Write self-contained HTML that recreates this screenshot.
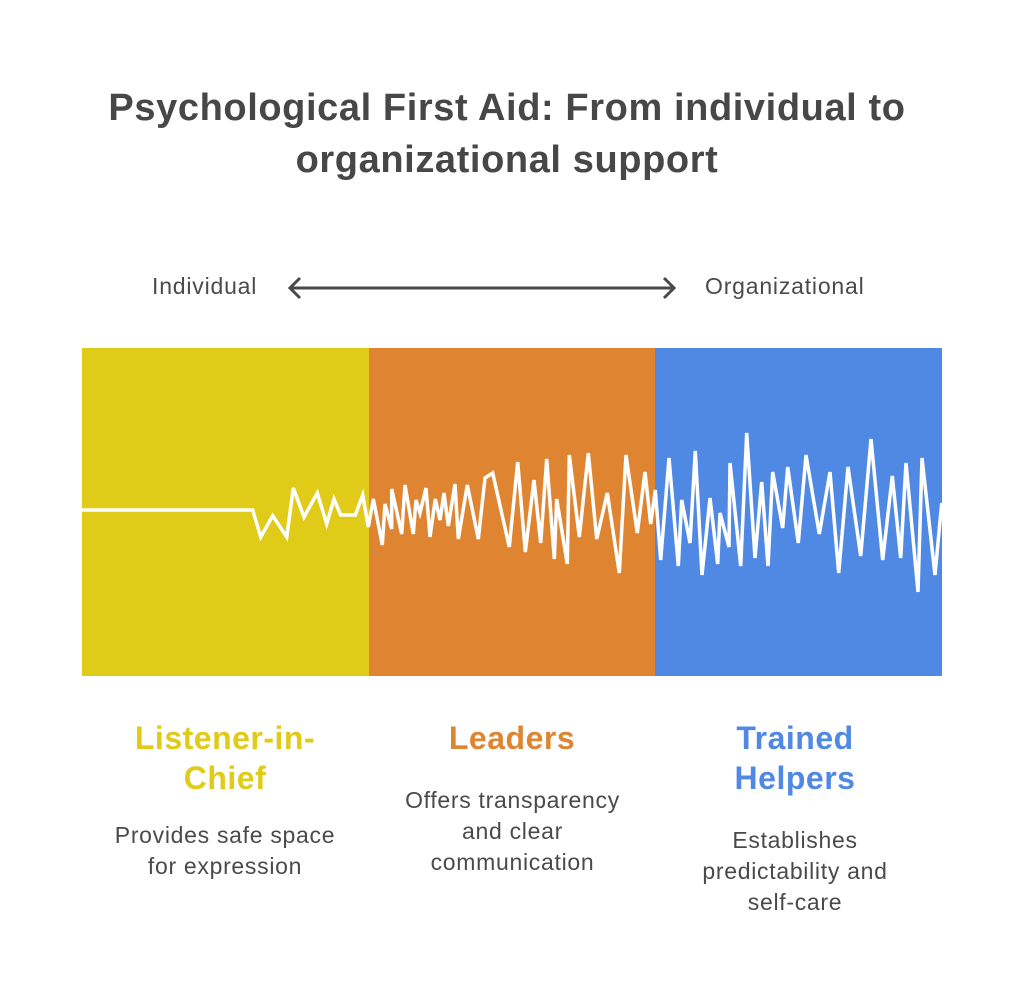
<!DOCTYPE html>
<html><head><style>
body{margin:0;width:1024px;height:1004px;background:#fff;font-family:"Liberation Sans",sans-serif;color:#4a4a4a;position:relative;overflow:hidden}
.t{position:absolute;left:0;width:1014px;text-align:center;font-weight:bold;font-size:38px;letter-spacing:0.6px;line-height:52px;top:82px;color:#474747}
.a{position:absolute;font-size:23px;letter-spacing:0.8px;top:273px}
.h{position:absolute;text-align:center;font-weight:bold;font-size:32px;letter-spacing:0.5px;line-height:40px}
.d{position:absolute;text-align:center;font-size:23px;letter-spacing:0.7px;line-height:31px;color:#4a4a4a}
</style></head><body>
<div class="t">Psychological First Aid: From individual to<br>organizational support</div>
<div class="a" style="left:152px">Individual</div>
<div class="a" style="left:705px">Organizational</div>
<svg style="position:absolute;left:0;top:0" width="1024" height="1004">
<line x1="290" y1="288" x2="674" y2="288" stroke="#4a4a4a" stroke-width="3"/>
<polyline points="300,278 290,288 300,298" fill="none" stroke="#4a4a4a" stroke-width="3"/>
<polyline points="664,278 674,288 664,298" fill="none" stroke="#4a4a4a" stroke-width="3"/>
<rect x="82" y="348" width="287" height="328" fill="#DFCB18"/>
<rect x="369" y="348" width="286" height="328" fill="#DF8431"/>
<rect x="655" y="348" width="287" height="328" fill="#4F89E4"/>
<polyline fill="none" stroke="#fff" stroke-width="3.5" stroke-linejoin="miter" points="82,510 252.7,510 260.7,537 272.7,515.7 286.7,537 293.3,488 304,517 317.3,493 326.7,524 334,499 340.7,515 355.3,515 362.7,495 368.3,527 373.3,499 382.3,545 385,504 391.7,529 391.7,489 401.7,534 405,485 413.3,534 416,500 420,513 426,488 430,537 435.3,499 440,520 444,493 448.3,526 455,484 458.3,539 467.3,485 478.3,539 485,478 492.7,473 509.3,547 517.7,462 525.3,552 534,480 540.7,543 546.7,459 554.3,559 556.7,499 567.3,564 569.3,455 579.3,537 588.3,453 596.7,539 607.3,493 619.3,573 626,455 637.3,533 645,472 650.7,524 655.3,490 660.7,560 669,458 678.3,566 681.7,500 690,543 695.3,451 702,575 710,498 717.7,564 720,513 729,547 730,463 740.7,566 746.7,433 755,558 761.7,482 768,566 772.7,472 782.7,528 787.7,467 798.3,543 806,455 819.3,534 830,472 838.7,573 848,467 860.7,556 871,439 882.7,560 892.3,476 900.7,558 906,463 918,592 922,458 935,575 941.7,503"/>
</svg>
<div class="h" style="left:100px;width:250px;top:718px;color:#DFCB18">Listener-in-<br>Chief</div>
<div class="d" style="left:80px;width:290px;top:820px">Provides safe space<br>for expression</div>
<div class="h" style="left:387px;width:250px;top:718px;color:#DF8431">Leaders</div>
<div class="d" style="left:360px;width:305px;top:785px">Offers transparency<br>and clear<br>communication</div>
<div class="h" style="left:670px;width:250px;top:718px;color:#4F89E4">Trained<br>Helpers</div>
<div class="d" style="left:645px;width:300px;top:825px">Establishes<br>predictability and<br>self-care</div>
</body></html>
